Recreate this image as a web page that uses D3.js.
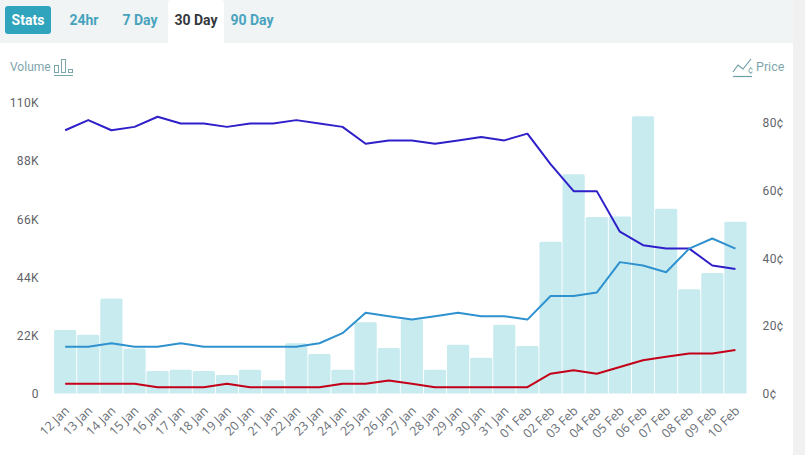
<!DOCTYPE html>
<html><head><meta charset="utf-8">
<script src="https://cdn.jsdelivr.net/npm/d3@7/dist/d3.min.js"></script>
<style>html,body{margin:0;padding:0;background:#fff;overflow:hidden}svg{display:block}</style>
</head><body><svg id="c" width="805" height="455"></svg>
<script>
const categories=["12 Jan","13 Jan","14 Jan","15 Jan","16 Jan","17 Jan","18 Jan","19 Jan","20 Jan","21 Jan","22 Jan","23 Jan","24 Jan","25 Jan","26 Jan","27 Jan","28 Jan","29 Jan","30 Jan","31 Jan","01 Feb","02 Feb","03 Feb","04 Feb","05 Feb","06 Feb","07 Feb","08 Feb","09 Feb","10 Feb"];
const volume=[24000,22200,36000,17000,8500,9000,8500,7000,9000,5000,19000,15000,9000,27000,17200,28000,9000,18500,13500,26000,18000,57500,83000,66800,67000,105000,70000,39500,45600,65000];
const priceHigh=[78,81,78,79,82,80,80,79,80,80,81,80,79,74,75,75,74,75,76,75,77,68,60,60,48,44,43,43,38,37];
const priceMid=[14,14,15,14,14,15,14,14,14,14,14,15,18,24,23,22,23,24,23,23,22,29,29,30,39,38,36,43,46,43];
const priceLow=[3,3,3,3,2,2,2,3,2,2,2,2,3,3,4,3,2,2,2,2,2,6,7,6,8,10,11,12,12,13];
const volumeTicks=[0,22000,44000,66000,88000,110000];
const priceTicks=[0,20,40,60,80];
const tabs=[["24hr",84],["7 Day",140],["30 Day",196],["90 Day",252]];

const svg=d3.select("#c");
svg.append("rect").attr("x",0).attr("y",0).attr("width",805).attr("height",43).attr("fill","#f0f4f5");
svg.append("rect").attr("x",793).attr("y",0).attr("width",12).attr("height",455).attr("fill","#f1f1f1");
svg.append("path").attr("d","M168,43V3a3,3 0 0 1 3,-3H221a3,3 0 0 1 3,3V43Z").attr("fill","#fff");
svg.append("rect").attr("x",5).attr("y",6).attr("width",46).attr("height",28).attr("rx",3).attr("fill","#31a4bd");
svg.append("text").attr("x",28).attr("y",25).attr("text-anchor","middle").attr("font-family","Roboto").attr("font-weight",700).attr("font-size",14).attr("fill","#fff").text("Stats");
svg.selectAll("text.tab").data(tabs).join("text").attr("class","tab").attr("x",d=>d[1]).attr("y",25).attr("text-anchor","middle")
  .attr("font-family","Roboto").attr("font-weight",700).attr("font-size",14)
  .attr("fill",d=>d[0]==="30 Day"?"#33383c":"#47a3bd").text(d=>d[0]);

const x=d3.scaleBand().domain(categories).range([53.6,747]).paddingInner(0.04).paddingOuter(0.02);
const yV=d3.scaleLinear().domain([0,110000]).range([393.5,103]);
const yP=d3.scaleLinear().domain([0,80]).range([394,123.5]);
const yPLabel=d3.scaleLinear().domain([0,80]).range([393.5,123]);
const cx=d=>x(d)+x.bandwidth()/2;

svg.append("g").selectAll("path").data(categories).join("path")
  .attr("fill","#c8ebf0")
  .attr("d",(c,i)=>{const l=x(c),r=l+x.bandwidth(),t=yV(volume[i]),b=yV(0);
    return `M${l},${b}V${t+1.5}Q${l},${t} ${l+1.5},${t}H${r-1.5}Q${r},${t} ${r},${t+1.5}V${b}Z`;});

const line=d3.line().x((d,i)=>cx(categories[i])).y(d=>yP(d));
[[priceHigh,"#2f1fc9"],[priceMid,"#2f92cf"],[priceLow,"#c40018"]].forEach(([s,col])=>{
  svg.append("path").datum(s).attr("d",line).attr("fill","none").attr("stroke",col).attr("stroke-width",2).attr("stroke-linejoin","round");
});

const fmtV=v=>v===0?"0":(v/1000)+"K";
const axL=svg.append("g").call(d3.axisLeft(yV).tickValues(volumeTicks).tickFormat(fmtV).tickSize(0).tickPadding(0)).attr("transform","translate(39,0)");
const axR=svg.append("g").call(d3.axisRight(yPLabel).tickValues(priceTicks).tickFormat(d=>d+"¢").tickSize(0).tickPadding(0)).attr("transform","translate(762.5,0)");
[axL,axR].forEach(a=>{a.select(".domain").remove();a.selectAll("text").attr("font-family","Roboto").attr("font-size",12).attr("fill","#5f6368").attr("letter-spacing","0.4px");});

const axB=svg.append("g").attr("transform","translate(0,393.5)").call(d3.axisBottom(x).tickSize(0).tickPadding(0));
axB.select(".domain").remove();
axB.selectAll("text").attr("font-family","Open Sans").attr("font-size",12.5).attr("fill","#6b7078")
  .attr("text-anchor","end").attr("dy",0).attr("y",0)
  .attr("transform","translate(5,18) rotate(-45)");

svg.append("text").attr("x",10).attr("y",71).attr("font-family","Roboto").attr("font-size",12).attr("fill","#7fa5ac").text("Volume");
svg.append("text").attr("x",756).attr("y",71).attr("font-family","Roboto").attr("font-size",12.5).attr("fill","#7fa5ac").text("Price");
const ic=svg.append("g").attr("fill","none").attr("stroke","#7aa6ab").attr("stroke-width",1);
ic.append("rect").attr("x",54.5).attr("y",65.5).attr("width",4).attr("height",7);
ic.append("rect").attr("x",61.5).attr("y",59.5).attr("width",4).attr("height",13);
ic.append("rect").attr("x",68.5).attr("y",69.5).attr("width",4).attr("height",3);
ic.append("path").attr("d","M54,75.5H73");
const ic2=svg.append("g").attr("fill","none").attr("stroke","#6b9ea3").attr("stroke-width",1.2);
ic2.append("path").attr("d","M733,72L738,65L743,69L751,59");
ic2.append("path").attr("d","M733,76.5H752");
svg.append("text").attr("x",748).attr("y",73).attr("font-family","Roboto").attr("font-size",9).attr("fill","#6b9ea3").text("¢");
</script></body></html>
